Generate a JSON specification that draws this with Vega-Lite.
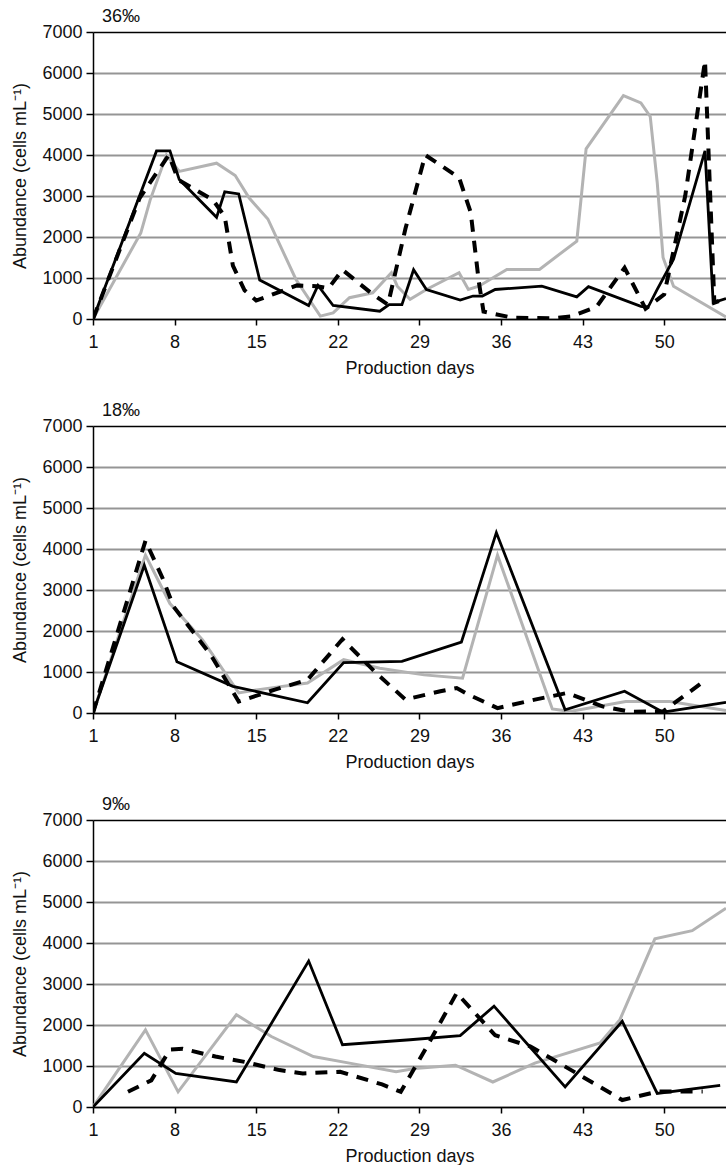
{
  "$schema": "https://vega.github.io/schema/vega-lite/v6.json",
  "padding": {"left": 11, "top": 8, "right": 0, "bottom": 0},
  "spacing": 25,
  "datasets": {
    "d": [
      {"p":"36","s":"gray","day":1,"v":0},{"p":"36","s":"gray","day":5.1,"v":2100},{"p":"36","s":"gray","day":5.9,"v":2900},{"p":"36","s":"gray","day":7.3,"v":4000},{"p":"36","s":"gray","day":8.4,"v":3600},{"p":"36","s":"gray","day":11.6,"v":3800},{"p":"36","s":"gray","day":13.2,"v":3500},{"p":"36","s":"gray","day":14.4,"v":2950},{"p":"36","s":"gray","day":16,"v":2440},{"p":"36","s":"gray","day":18.4,"v":970},{"p":"36","s":"gray","day":20.5,"v":70},{"p":"36","s":"gray","day":21.6,"v":150},{"p":"36","s":"gray","day":23,"v":520},{"p":"36","s":"gray","day":25,"v":640},{"p":"36","s":"gray","day":26.6,"v":1130},{"p":"36","s":"gray","day":27.1,"v":800},{"p":"36","s":"gray","day":28.2,"v":480},{"p":"36","s":"gray","day":29.6,"v":720},{"p":"36","s":"gray","day":32.4,"v":1130},{"p":"36","s":"gray","day":33.2,"v":720},{"p":"36","s":"gray","day":34.1,"v":800},{"p":"36","s":"gray","day":36.5,"v":1210},{"p":"36","s":"gray","day":39.3,"v":1210},{"p":"36","s":"gray","day":42.5,"v":1900},{"p":"36","s":"gray","day":43.3,"v":4150},{"p":"36","s":"gray","day":46.5,"v":5450},{"p":"36","s":"gray","day":48,"v":5270},{"p":"36","s":"gray","day":48.8,"v":4940},{"p":"36","s":"gray","day":49.4,"v":3330},{"p":"36","s":"gray","day":49.9,"v":1500},{"p":"36","s":"gray","day":50.8,"v":800},{"p":"36","s":"gray","day":55.3,"v":50},

      {"p":"36","s":"dash","day":1,"v":0},{"p":"36","s":"dash","day":5,"v":2950},{"p":"36","s":"dash","day":7.5,"v":4000},{"p":"36","s":"dash","day":8.3,"v":3400},{"p":"36","s":"dash","day":11.3,"v":2900},{"p":"36","s":"dash","day":12.3,"v":2500},{"p":"36","s":"dash","day":13,"v":1300},{"p":"36","s":"dash","day":14,"v":700},{"p":"36","s":"dash","day":15,"v":450},{"p":"36","s":"dash","day":18.5,"v":820},{"p":"36","s":"dash","day":20.2,"v":800},{"p":"36","s":"dash","day":21.2,"v":750},{"p":"36","s":"dash","day":22.4,"v":1200},{"p":"36","s":"dash","day":25,"v":600},{"p":"36","s":"dash","day":26.3,"v":350},{"p":"36","s":"dash","day":27.8,"v":2200},{"p":"36","s":"dash","day":29.5,"v":4000},{"p":"36","s":"dash","day":32.4,"v":3450},{"p":"36","s":"dash","day":33.4,"v":2600},{"p":"36","s":"dash","day":34.1,"v":900},{"p":"36","s":"dash","day":34.5,"v":180},{"p":"36","s":"dash","day":37,"v":30},{"p":"36","s":"dash","day":40.5,"v":20},{"p":"36","s":"dash","day":42,"v":60},{"p":"36","s":"dash","day":44.2,"v":300},{"p":"36","s":"dash","day":46.6,"v":1250},{"p":"36","s":"dash","day":48.4,"v":250},{"p":"36","s":"dash","day":50,"v":600},{"p":"36","s":"dash","day":51.8,"v":3000},{"p":"36","s":"dash","day":53.5,"v":6300},{"p":"36","s":"dash","day":54.3,"v":400},{"p":"36","s":"dash","day":55.3,"v":500},

      {"p":"36","s":"solid","day":1,"v":0},{"p":"36","s":"solid","day":6.45,"v":4100},{"p":"36","s":"solid","day":7.6,"v":4100},{"p":"36","s":"solid","day":8.4,"v":3400},{"p":"36","s":"solid","day":11.6,"v":2480},{"p":"36","s":"solid","day":12.3,"v":3100},{"p":"36","s":"solid","day":13.5,"v":3050},{"p":"36","s":"solid","day":15.3,"v":950},{"p":"36","s":"solid","day":19.5,"v":330},{"p":"36","s":"solid","day":20.3,"v":820},{"p":"36","s":"solid","day":21.6,"v":330},{"p":"36","s":"solid","day":25.6,"v":190},{"p":"36","s":"solid","day":26.4,"v":350},{"p":"36","s":"solid","day":27.5,"v":350},{"p":"36","s":"solid","day":28.5,"v":1200},{"p":"36","s":"solid","day":29.6,"v":720},{"p":"36","s":"solid","day":32.5,"v":460},{"p":"36","s":"solid","day":33.6,"v":560},{"p":"36","s":"solid","day":34.4,"v":560},{"p":"36","s":"solid","day":35.5,"v":720},{"p":"36","s":"solid","day":39.5,"v":800},{"p":"36","s":"solid","day":42.5,"v":540},{"p":"36","s":"solid","day":43.5,"v":790},{"p":"36","s":"solid","day":48,"v":310},{"p":"36","s":"solid","day":48.6,"v":280},{"p":"36","s":"solid","day":49.4,"v":720},{"p":"36","s":"solid","day":50.8,"v":1460},{"p":"36","s":"solid","day":53.5,"v":4100},{"p":"36","s":"solid","day":54.2,"v":400},{"p":"36","s":"solid","day":55.3,"v":500},

      {"p":"18","s":"gray","day":1,"v":0},{"p":"18","s":"gray","day":5.5,"v":3850},{"p":"18","s":"gray","day":7.6,"v":2670},{"p":"18","s":"gray","day":10.4,"v":1780},{"p":"18","s":"gray","day":13.5,"v":490},{"p":"18","s":"gray","day":15.2,"v":570},{"p":"18","s":"gray","day":19.4,"v":730},{"p":"18","s":"gray","day":22.5,"v":1300},{"p":"18","s":"gray","day":25.6,"v":1090},{"p":"18","s":"gray","day":29.4,"v":930},{"p":"18","s":"gray","day":32.7,"v":850},{"p":"18","s":"gray","day":35.7,"v":3850},{"p":"18","s":"gray","day":40.4,"v":100},{"p":"18","s":"gray","day":41.9,"v":40},{"p":"18","s":"gray","day":46.7,"v":280},{"p":"18","s":"gray","day":50.5,"v":280},{"p":"18","s":"gray","day":55.3,"v":60},

      {"p":"18","s":"dash","day":1,"v":0},{"p":"18","s":"dash","day":5.5,"v":4200},{"p":"18","s":"dash","day":7,"v":3270},{"p":"18","s":"dash","day":7.9,"v":2600},{"p":"18","s":"dash","day":11.1,"v":1420},{"p":"18","s":"dash","day":13.5,"v":280},{"p":"18","s":"dash","day":16.6,"v":570},{"p":"18","s":"dash","day":19.4,"v":810},{"p":"18","s":"dash","day":22.4,"v":1800},{"p":"18","s":"dash","day":25.3,"v":970},{"p":"18","s":"dash","day":27.8,"v":330},{"p":"18","s":"dash","day":30.8,"v":530},{"p":"18","s":"dash","day":32.2,"v":610},{"p":"18","s":"dash","day":33.2,"v":450},{"p":"18","s":"dash","day":35.7,"v":120},{"p":"18","s":"dash","day":38.8,"v":320},{"p":"18","s":"dash","day":41.7,"v":490},{"p":"18","s":"dash","day":44.7,"v":160},{"p":"18","s":"dash","day":47.1,"v":30},{"p":"18","s":"dash","day":49.9,"v":40},{"p":"18","s":"dash","day":53.3,"v":750},

      {"p":"18","s":"solid","day":1,"v":0},{"p":"18","s":"solid","day":5.4,"v":3600},{"p":"18","s":"solid","day":8.2,"v":1250},{"p":"18","s":"solid","day":13,"v":650},{"p":"18","s":"solid","day":19.4,"v":250},{"p":"18","s":"solid","day":22.5,"v":1230},{"p":"18","s":"solid","day":27.5,"v":1260},{"p":"18","s":"solid","day":32.6,"v":1730},{"p":"18","s":"solid","day":35.6,"v":4400},{"p":"18","s":"solid","day":41.5,"v":80},{"p":"18","s":"solid","day":46.6,"v":530},{"p":"18","s":"solid","day":49.9,"v":20},{"p":"18","s":"solid","day":55.3,"v":260},

      {"p":"9","s":"gray","day":1,"v":0},{"p":"9","s":"gray","day":5.5,"v":1880},{"p":"9","s":"gray","day":8.3,"v":370},{"p":"9","s":"gray","day":13.3,"v":2250},{"p":"9","s":"gray","day":16.3,"v":1720},{"p":"9","s":"gray","day":19.9,"v":1230},{"p":"9","s":"gray","day":23,"v":1070},{"p":"9","s":"gray","day":27,"v":860},{"p":"9","s":"gray","day":28.6,"v":940},{"p":"9","s":"gray","day":32.1,"v":1020},{"p":"9","s":"gray","day":35.3,"v":610},{"p":"9","s":"gray","day":38.9,"v":1070},{"p":"9","s":"gray","day":44.5,"v":1560},{"p":"9","s":"gray","day":46.2,"v":2130},{"p":"9","s":"gray","day":49.2,"v":4100},{"p":"9","s":"gray","day":52.4,"v":4300},{"p":"9","s":"gray","day":55.3,"v":4850},

      {"p":"9","s":"dash","day":4,"v":370},{"p":"9","s":"dash","day":6,"v":650},{"p":"9","s":"dash","day":7.6,"v":1400},{"p":"9","s":"dash","day":8.7,"v":1420},{"p":"9","s":"dash","day":11.5,"v":1230},{"p":"9","s":"dash","day":14,"v":1100},{"p":"9","s":"dash","day":17,"v":900},{"p":"9","s":"dash","day":19,"v":820},{"p":"9","s":"dash","day":22.2,"v":860},{"p":"9","s":"dash","day":25.8,"v":550},{"p":"9","s":"dash","day":27.4,"v":370},{"p":"9","s":"dash","day":29.5,"v":1400},{"p":"9","s":"dash","day":32.2,"v":2780},{"p":"9","s":"dash","day":35.5,"v":1750},{"p":"9","s":"dash","day":38.5,"v":1480},{"p":"9","s":"dash","day":40.5,"v":1150},{"p":"9","s":"dash","day":44.5,"v":490},{"p":"9","s":"dash","day":46.4,"v":170},{"p":"9","s":"dash","day":49.5,"v":380},{"p":"9","s":"dash","day":53.3,"v":380},

      {"p":"9","s":"solid","day":1,"v":0},{"p":"9","s":"solid","day":5.4,"v":1310},{"p":"9","s":"solid","day":8.1,"v":820},{"p":"9","s":"solid","day":13.3,"v":610},{"p":"9","s":"solid","day":19.5,"v":3560},{"p":"9","s":"solid","day":22.4,"v":1520},{"p":"9","s":"solid","day":28.2,"v":1640},{"p":"9","s":"solid","day":32.5,"v":1740},{"p":"9","s":"solid","day":35.4,"v":2460},{"p":"9","s":"solid","day":41.5,"v":490},{"p":"9","s":"solid","day":46.4,"v":2090},{"p":"9","s":"solid","day":49.4,"v":330},{"p":"9","s":"solid","day":54.8,"v":530}
    ]
  },
  "data": {"name": "d"},
  "vconcat": [
    {
      "width": 633, "height": 287,
      "title": {"text": "36‰", "dx": 9},
      "transform": [{"filter": "datum.p === '36'"}],
      "encoding": {
        "x": {"field": "day", "type": "quantitative", "scale": {"domain": [1, 55.3], "nice": false, "zero": false}, "axis": {"values": [1,8,15,22,29,36,43,50], "title": "Production days"}},
        "y": {"field": "v", "type": "quantitative", "scale": {"domain": [0, 7000], "nice": false}, "axis": {"values": [0,1000,2000,3000,4000,5000,6000,7000], "title": "Abundance (cells mL⁻¹)"}}
      },
      "layer": [
        {"transform": [{"filter": "datum.s === 'gray'"}], "mark": {"type": "line", "color": "#b3b3b3", "strokeWidth": 3, "clip": true}, "encoding": {}},
        {"transform": [{"filter": "datum.s === 'dash'"}], "mark": {"type": "line", "color": "#000", "strokeWidth": 4, "strokeDash": [12, 9], "clip": true}, "encoding": {}},
        {"transform": [{"filter": "datum.s === 'solid'"}], "mark": {"type": "line", "color": "#000", "strokeWidth": 2.8, "clip": true}, "encoding": {}}
      ]
    },
    {
      "width": 633, "height": 287,
      "title": {"text": "18‰", "dx": 9},
      "transform": [{"filter": "datum.p === '18'"}],
      "encoding": {
        "x": {"field": "day", "type": "quantitative", "scale": {"domain": [1, 55.3], "nice": false, "zero": false}, "axis": {"values": [1,8,15,22,29,36,43,50], "title": "Production days"}},
        "y": {"field": "v", "type": "quantitative", "scale": {"domain": [0, 7000], "nice": false}, "axis": {"values": [0,1000,2000,3000,4000,5000,6000,7000], "title": "Abundance (cells mL⁻¹)"}}
      },
      "layer": [
        {"transform": [{"filter": "datum.s === 'gray'"}], "mark": {"type": "line", "color": "#b3b3b3", "strokeWidth": 3, "clip": true}, "encoding": {}},
        {"transform": [{"filter": "datum.s === 'dash'"}], "mark": {"type": "line", "color": "#000", "strokeWidth": 4, "strokeDash": [12, 9], "clip": true}, "encoding": {}},
        {"transform": [{"filter": "datum.s === 'solid'"}], "mark": {"type": "line", "color": "#000", "strokeWidth": 2.8, "clip": true}, "encoding": {}}
      ]
    },
    {
      "width": 633, "height": 287,
      "title": {"text": "9‰", "dx": 9},
      "transform": [{"filter": "datum.p === '9'"}],
      "encoding": {
        "x": {"field": "day", "type": "quantitative", "scale": {"domain": [1, 55.3], "nice": false, "zero": false}, "axis": {"values": [1,8,15,22,29,36,43,50], "title": "Production days"}},
        "y": {"field": "v", "type": "quantitative", "scale": {"domain": [0, 7000], "nice": false}, "axis": {"values": [0,1000,2000,3000,4000,5000,6000,7000], "title": "Abundance (cells mL⁻¹)"}}
      },
      "layer": [
        {"transform": [{"filter": "datum.s === 'gray'"}], "mark": {"type": "line", "color": "#b3b3b3", "strokeWidth": 3, "clip": true}, "encoding": {}},
        {"transform": [{"filter": "datum.s === 'dash'"}], "mark": {"type": "line", "color": "#000", "strokeWidth": 4, "strokeDash": [12, 9], "clip": true}, "encoding": {}},
        {"transform": [{"filter": "datum.s === 'solid'"}], "mark": {"type": "line", "color": "#000", "strokeWidth": 2.8, "clip": true}, "encoding": {}}
      ]
    }
  ],
  "config": {
    "font": "Liberation Sans",
    "view": {"stroke": null},
    "title": {"font": "Liberation Sans", "fontSize": 18, "fontWeight": "normal", "anchor": "start", "frame": "group", "offset": -3, "color": "#111"},
    "axis": {
      "labelFont": "Liberation Sans", "labelFontSize": 18, "labelColor": "#111",
      "titleFont": "Liberation Sans", "titleFontSize": 18, "titleFontWeight": "normal", "titleColor": "#111",
      "domainColor": "#000", "domainWidth": 1.5, "tickColor": "#000", "tickWidth": 1.5
    },
    "axisX": {"grid": false, "tickSize": 6, "labelPadding": 8, "titlePadding": 8, "labelFlush": false},
    "axisY": {
      "grid": true, "tickSize": 7, "labelPadding": 4, "minExtent": 52, "maxExtent": 52, "titlePadding": 12, "format": "d",
      "gridColor": {"condition": {"test": "datum.value === 7000", "value": "#000"}, "value": "#959595"},
      "gridWidth": {"condition": {"test": "datum.value === 7000", "value": 1.5}, "value": 2.2}
    }
  }
}
